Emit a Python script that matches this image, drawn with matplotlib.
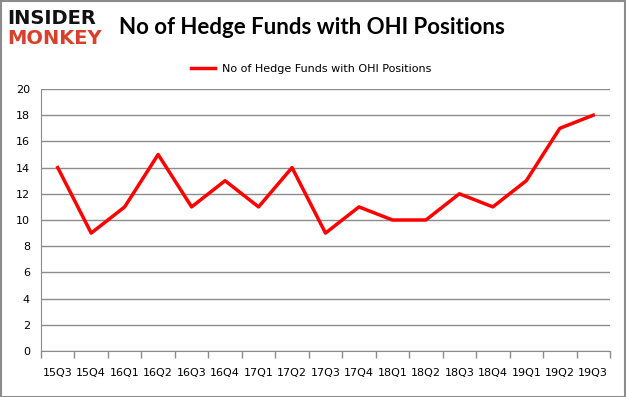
import matplotlib
matplotlib.use('Agg')
import matplotlib.pyplot as plt
from matplotlib.patches import Rectangle

# quarters and fund counts
quarters = ['15Q3', '15Q4', '16Q1', '16Q2', '16Q3', '16Q4', '17Q1', '17Q2', '17Q3',
            '17Q4', '18Q1', '18Q2', '18Q3', '18Q4', '19Q1', '19Q2', '19Q3']
funds = [14, 9, 11, 15, 11, 13, 11, 14, 9, 11, 10, 10, 12, 11, 13, 17, 18]
yticks = list(range(0, 21, 2))
series_name = 'No of Hedge Funds with OHI Positions'

W, H = 626, 397
fig = plt.figure(figsize=(W / 100, H / 100), dpi=100)
ax = fig.add_axes([41 / W, 1 - 351 / H, (610 - 41) / W, (351 - 89) / H])

x = list(range(len(quarters)))
ax.plot(x, funds, color='#ff0000', lw=2.5, label=series_name)

ax.set_xlim(-0.5, len(quarters) - 0.5)
ax.set_ylim(0, 20)
ax.set_yticks(yticks)
ax.yaxis.grid(True, color='#8c8c8c', lw=1)
ax.set_axisbelow(True)

# category ticks sit on boundaries, labels in the middle
ax.set_xticks([i - 0.5 for i in range(len(quarters) + 1)], minor=False)
ax.set_xticklabels([])
ax.set_xticks(x, minor=True)
ax.set_xticklabels(quarters, minor=True)
ax.tick_params(axis='x', which='major', length=5, color='#8c8c8c', width=1)
ax.tick_params(axis='x', which='minor', length=0, pad=12, labelsize=8)
ax.tick_params(axis='y', length=0, labelsize=8, pad=8)

for s in ['top', 'right']:
    ax.spines[s].set_visible(False)
for s in ['left', 'bottom']:
    ax.spines[s].set_color('#8c8c8c')

ax.legend(loc='lower center', bbox_to_anchor=(0.475, 1.02), frameon=False,
          fontsize=8, handlelength=2.2, handletextpad=0.6)

fig.text(312 / W, 1 - 27 / H, series_name, ha='center', va='center',
         fontsize=16, fontweight='bold', family=['Lato', 'DejaVu Sans'])
fig.text(7 / W, 1 - 18 / H, 'INSIDER', ha='left', va='center',
         fontsize=14, fontweight='bold', color='#111111')
fig.text(7 / W, 1 - 39 / H, 'MONKEY', ha='left', va='center',
         fontsize=14, fontweight='bold', color='#d9402b')

fig.patches.append(Rectangle((0.5 / W, 0.5 / H), 1 - 1.5 / W, 1 - 1.5 / H,
                             transform=fig.transFigure, fill=False,
                             edgecolor='#8c8c8c', lw=1.5))

fig.savefig('out.png', dpi=100)
